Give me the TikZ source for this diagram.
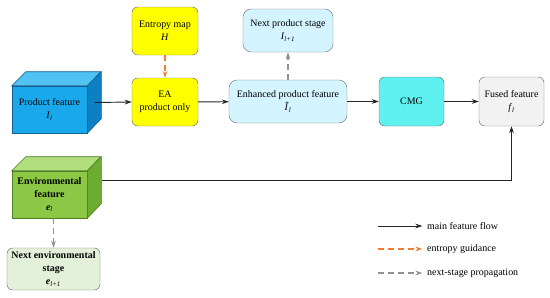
\documentclass[tikz,border=0pt]{standalone}
\usepackage{fontspec}
\setmainfont{Liberation Serif}
\usetikzlibrary{arrows.meta}

\definecolor{prodfront}{RGB}{25,168,235}
\definecolor{prodtop}{RGB}{80,195,242}
\definecolor{prodside}{RGB}{12,128,195}
\definecolor{prodline}{RGB}{20,95,145}
\definecolor{envfront}{RGB}{140,200,70}
\definecolor{envtop}{RGB}{178,222,125}
\definecolor{envside}{RGB}{108,172,48}
\definecolor{envline}{RGB}{75,125,35}
\definecolor{eayellow}{RGB}{255,255,0}
\definecolor{lightcyan}{RGB}{212,244,255}
\definecolor{cmgcyan}{RGB}{95,240,240}
\definecolor{fusedgray}{RGB}{242,242,242}
\definecolor{nextgreen}{RGB}{228,241,218}
\definecolor{boxline}{RGB}{120,120,120}
\definecolor{guideorange}{RGB}{242,125,50}
\definecolor{propgray}{RGB}{145,145,145}

\newcommand{\lsub}[1]{\textsubscript{\textit{#1}}}

\tikzset{
    box/.style={draw=boxline, rounded corners=5pt, align=center, inner sep=1pt,
                font=\fontsize{8.5}{11}\selectfont},
    face/.style={draw=#1, line width=0.5pt, align=center, inner sep=1pt,
                 font=\fontsize{8.5}{11}\selectfont},
    mainflow/.style={-{Stealth[length=6pt,width=4pt]}, line width=0.8pt, black!85},
    guide/.style={-{Stealth[length=6pt,width=4pt]}, line width=1pt, guideorange, dash pattern=on 5pt off 3.5pt},
    propag/.style={-{Stealth[length=6pt,width=4pt]}, line width=1pt, propgray, dash pattern=on 5pt off 3.5pt},
    legendtext/.style={anchor=west, inner sep=0pt, font=\fontsize{8.5}{11}\selectfont}
}

\begin{document}
\begin{tikzpicture}[x=0.03cm,y=-0.03cm]
    \useasboundingbox (0,0) rectangle (550,297);

    % product feature cube
    \node[face=prodline, fill=prodfront, minimum width=2.25cm, minimum height=1.41cm] (prod) at (49.5,109.5) {Product feature\\ \textit{I}\lsub{l}};
    \filldraw[fill=prodtop, draw=prodline, line width=0.5pt] (prod.north west) -- ++(14,-14) -- ++(75,0) -- (prod.north east) -- cycle;
    \filldraw[fill=prodside, draw=prodline, line width=0.5pt] (prod.north east) -- ++(14,-14) -- ++(0,47) -- (prod.south east) -- cycle;
    \coordinate (prodR) at ([shift={(7,-7)}]prod.east);

    % environmental feature cube
    \node[face=envline, fill=envfront, minimum width=2.25cm, minimum height=1.41cm] (env) at (49.5,194.5) {\textbf{Environmental}\\ \textbf{feature}\\ \textbf{\textit{e}}\lsub{l}};
    \filldraw[fill=envtop, draw=envline, line width=0.5pt] (env.north west) -- ++(14,-14) -- ++(75,0) -- (env.north east) -- cycle;
    \filldraw[fill=envside, draw=envline, line width=0.5pt] (env.north east) -- ++(14,-14) -- ++(0,47) -- (env.south east) -- cycle;
    \coordinate (envR) at (102,180);

    % boxes
    \node[box, fill=eayellow, minimum width=1.98cm, minimum height=1.44cm] (entropy) at (165,31) {Entropy map\\ \textit{H}};
    \node[box, fill=eayellow, minimum width=1.98cm, minimum height=1.44cm] (ea) at (165,102) {EA\\ product only};
    \node[box, fill=lightcyan, rounded corners=7pt, minimum width=3.54cm, minimum height=1.29cm] (enh) at (288,101.5) {Enhanced product feature\\ \textit{Ĩ}\lsub{l}};
    \node[box, fill=lightcyan, rounded corners=7pt, minimum width=2.7cm, minimum height=1.29cm] (nextprod) at (288,30.5) {Next product stage\\ \textit{I}\lsub{l+1}};
    \node[box, fill=cmgcyan, minimum width=1.95cm, minimum height=1.47cm] (cmg) at (411.5,101.5) {CMG};
    \node[box, fill=fusedgray, minimum width=1.95cm, minimum height=1.47cm] (fused) at (511.5,101.5) {Fused feature\\ \textit{f}\lsub{l}};
    \node[box, fill=nextgreen, minimum width=2.79cm, minimum height=1.26cm] (nextenv) at (53.5,269) {\textbf{Next environmental}\\ \textbf{stage}\\ \textbf{\textit{e}}\lsub{l+1}};

    % connectors
    \draw[mainflow] (prodR) -- (ea.west);
    \draw[mainflow] (ea) -- (enh);
    \draw[mainflow] (enh) -- (cmg);
    \draw[mainflow] (cmg) -- (fused);
    \draw[mainflow] (envR) -| (fused.south);
    \draw[guide] (entropy) -- (ea);
    \draw[propag] (enh) -- (nextprod);
    \draw[propag] (env.south -| nextenv.north) -- (nextenv.north);

    % legend
    \node[legendtext] (lgmain) at (427,226) {main feature flow};
    \node[legendtext] (lgguide) at (427,249) {entropy guidance};
    \node[legendtext] (lgprop) at (427,273) {next-stage propagation};
    \coordinate (lm) at (378,226);
    \coordinate (lg) at (378,249);
    \coordinate (lp) at (378,273);
    \draw[mainflow, shorten >=4pt] (lm) -- (lgmain.west);
    \draw[guide, shorten >=4pt] (lg) -- (lgguide.west);
    \draw[propag, shorten >=4pt] (lp) -- (lgprop.west);

\end{tikzpicture}
\end{document}
